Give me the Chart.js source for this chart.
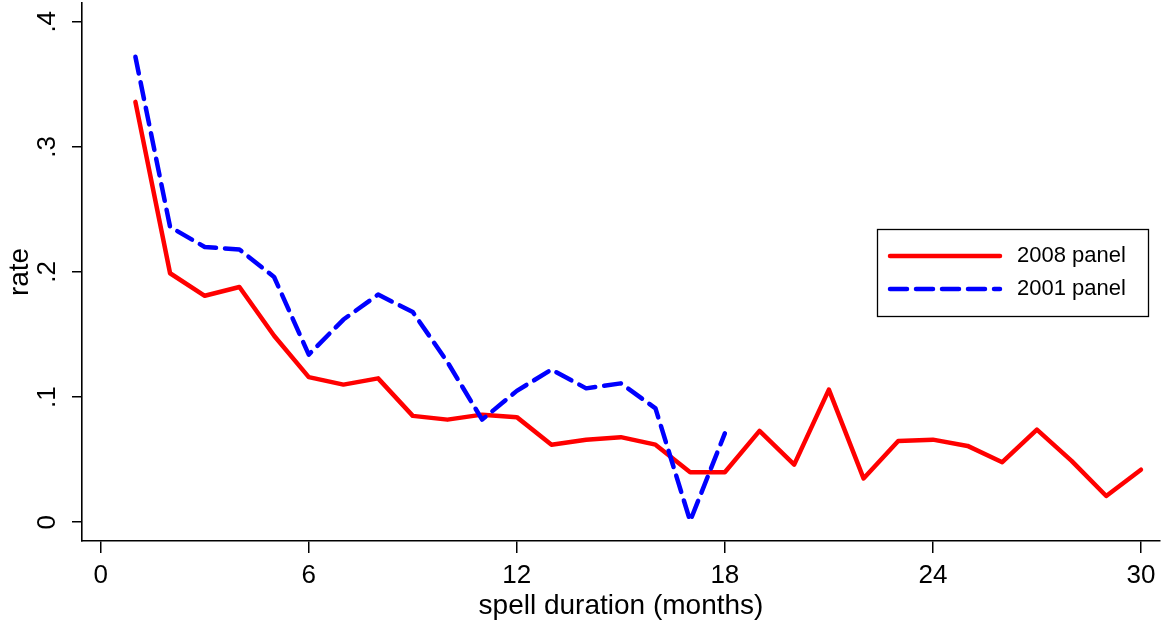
<!DOCTYPE html>
<html>
<head>
<meta charset="utf-8">
<script src="https://cdn.jsdelivr.net/npm/chart.js@4.4.1/dist/chart.umd.min.js"></script>
<style>
  body { margin: 0; background: #fff; }
  canvas { display: block; }
</style>
</head>
<body>
<canvas id="hazard-chart" width="1164" height="625"></canvas>
<script>
// months since spell start
const months = [1, 2, 3, 4, 5, 6, 7, 8, 9, 10, 11, 12, 13, 14, 15, 16, 17, 18, 19, 20, 21, 22, 23, 24, 25, 26, 27, 28, 29, 30]

// exit rates
const rate2008 = [0.336, 0.199, 0.181, 0.188, 0.149, 0.116, 0.110, 0.115, 0.085, 0.082,
                  0.086, 0.084, 0.062, 0.066, 0.068, 0.062, 0.040, 0.040, 0.073, 0.046,
                  0.106, 0.035, 0.065, 0.066, 0.061, 0.048, 0.074, 0.049, 0.021, 0.042]
const rate2001 = [0.372, 0.236, 0.220, 0.218, 0.196, 0.134, 0.162, 0.182, 0.168, 0.128,
                  0.082, 0.105, 0.122, 0.107, 0.111, 0.091, 0.001, 0.071]

const xTicks = [0, 6, 12, 18, 24, 30]
const yTicks = [0, 0.1, 0.2, 0.3, 0.4]
const yTickLabels = ['0', '.1', '.2', '.3', '.4']

const seriesLabels = ['2008 panel', '2001 panel']

const FONT = 'Liberation Sans, Arial, Helvetica, sans-serif'

function toPoints(values) {
    return values.map((v, i) => ({ x: months[i], y: v }))
}

// Stata-like boxed legend inside the plot region
const boxLegend = {
    id: 'boxLegend',
    afterDraw(chart) {
        const ctx = chart.ctx
        const area = chart.chartArea
        const right = area.right - 12
        const left = right - 271
        const top = area.top + 226
        const rowH = 33

        ctx.save()
        ctx.strokeStyle = '#000'
        ctx.lineWidth = 1.3
        ctx.strokeRect(left + 0.5, top + 0.5, right - left, 87)

        ctx.font = '22px ' + FONT
        ctx.textBaseline = 'middle'
        ctx.textAlign = 'left'
        chart.data.datasets.forEach((ds, i) => {
            const y = top + 27 + i * rowH
            ctx.beginPath()
            ctx.strokeStyle = ds.borderColor
            ctx.lineWidth = ds.borderWidth
            ctx.lineCap = 'round'
            ctx.setLineDash(ds.borderDash || [])
            ctx.moveTo(left + 13, y)
            ctx.lineTo(left + 123, y)
            ctx.stroke()
            ctx.setLineDash([])
            ctx.fillStyle = '#000'
            ctx.fillText(ds.label, left + 140, y)
        })
        ctx.restore()
    }
}

const ctx = document.getElementById('hazard-chart')

new Chart(ctx, {
    type: 'line',
    data: {
        datasets: [{
            label: seriesLabels[0],
            data: toPoints(rate2008),
            borderColor: '#ff0000',
            borderWidth: 4.5,
            borderJoinStyle: 'round',
            borderCapStyle: 'round',
            pointRadius: 0,
            tension: 0,
            order: 1
        }, {
            label: seriesLabels[1],
            data: toPoints(rate2001),
            borderColor: '#0000ff',
            borderWidth: 4.5,
            borderDash: [17, 9],
            borderJoinStyle: 'round',
            borderCapStyle: 'round',
            pointRadius: 0,
            tension: 0,
            order: 0
        }]
    },
    options: {
        responsive: false,
        animation: false,
        devicePixelRatio: 1,
        layout: { padding: { top: 3, right: 4, left: 0, bottom: 0 } },
        plugins: {
            legend: { display: false },
            tooltip: { enabled: false }
        },
        scales: {
            x: {
                type: 'linear',
                min: -0.54,
                max: 30.55,
                afterBuildTicks: (scale) => { scale.ticks = xTicks.map(v => ({ value: v })) },
                afterFit: (scale) => {
                    scale.height = 84
                    scale.paddingLeft = 0
                    scale.paddingRight = 0
                },
                border: { display: true, color: '#000', width: 1.6 },
                grid: { drawOnChartArea: false, color: '#000', lineWidth: 1.5, tickLength: 12 },
                ticks: {
                    autoSkip: false,
                    maxRotation: 0,
                    padding: 7,
                    color: '#000',
                    font: { family: FONT, size: 26 }
                },
                title: {
                    display: true,
                    text: 'spell duration (months)',
                    color: '#000',
                    font: { family: FONT, size: 28 },
                    padding: { top: 0, bottom: 2 }
                }
            },
            y: {
                type: 'linear',
                min: -0.015,
                max: 0.415,
                afterBuildTicks: (scale) => { scale.ticks = yTicks.map(v => ({ value: v })) },
                afterFit: (scale) => {
                    scale.width = 82
                    scale.paddingTop = 0
                    scale.paddingBottom = 0
                },
                border: { display: true, color: '#000', width: 1.6 },
                grid: { drawOnChartArea: false, color: '#000', lineWidth: 1.5, tickLength: 10 },
                ticks: {
                    autoSkip: false,
                    minRotation: 90,
                    maxRotation: 90,
                    crossAlign: 'center',
                    padding: 13,
                    color: '#000',
                    font: { family: FONT, size: 26 },
                    callback: (value, index) => yTickLabels[index]
                },
                title: {
                    display: true,
                    text: 'rate',
                    color: '#000',
                    font: { family: FONT, size: 28 },
                    padding: { top: 3, bottom: 0 }
                }
            }
        }
    },
    plugins: [boxLegend]
})
</script>
</body>
</html>
